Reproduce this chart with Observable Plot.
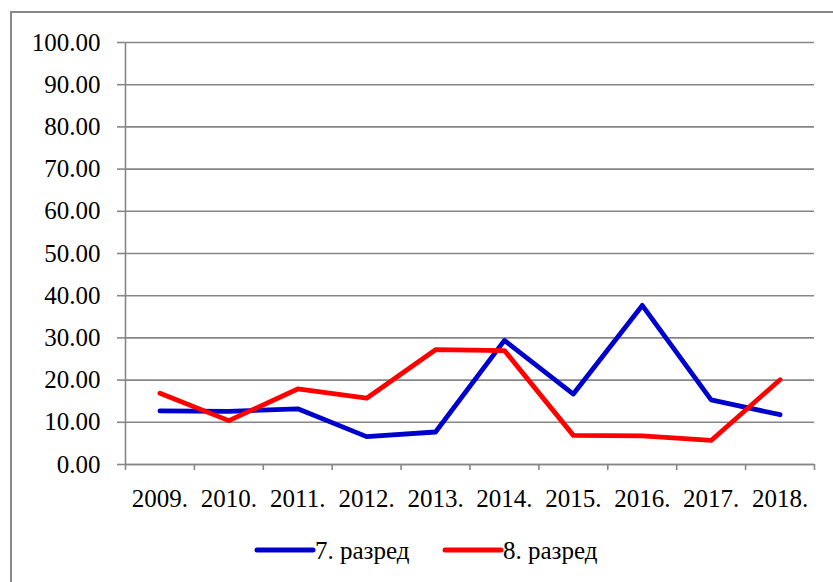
<!DOCTYPE html>
<html>
<head>
<meta charset="utf-8">
<script src="https://cdn.jsdelivr.net/npm/d3@7"></script>
<script src="https://cdn.jsdelivr.net/npm/@observablehq/plot@0.6"></script>
<style>
  html, body { margin: 0; padding: 0; background: #fff; }
  #wrap { position: relative; width: 833px; height: 582px; overflow: hidden; }
  #frame { position: absolute; left: 10px; top: 11px; width: 900px; height: 700px; border-left: 2px solid #888; border-top: 2px solid #888; }
  #chart { position: absolute; left: 0; top: 0; }
  #legend { position: absolute; left: 0; top: 520px; }
  #dbg { position: absolute; left: 0; top: 0; margin: 0; font: 1px monospace; color: #fff; }
</style>
</head>
<body>
<div id="wrap">
  <div id="frame"></div>
  <div id="chart"></div>
  <div id="legend"></div>
  <pre id="dbg"></pre>
</div>
<script>
const years = [2009, 2010, 2011, 2012, 2013, 2014, 2015, 2016, 2017, 2018];
const grade7 = [12.7, 12.6, 13.2, 6.6, 7.7, 29.4, 16.7, 37.7, 15.3, 11.8];
const grade8 = [16.9, 10.4, 17.9, 15.7, 27.2, 27.0, 6.9, 6.8, 5.7, 20.1];
const seriesNames = ["7. разред", "8. разред"];
const seriesColors = ["#0000CC", "#FF0000"];
const yTicks = [0, 10, 20, 30, 40, 50, 60, 70, 80, 90, 100];
const rows7 = years.map((y, i) => ({year: y, value: grade7[i], series: seriesNames[0]}));
const rows8 = years.map((y, i) => ({year: y, value: grade8[i], series: seriesNames[1]}));
const boundaries = [years[0] - 0.5, ...years.map(y => y + 0.5)];
const gray = "#868686";
let msg = "";
try {
const plot = Plot.plot({
  width: 833, height: 582, marginTop: 42, marginBottom: 118, marginLeft: 125, marginRight: 19,
  style: {fontFamily: "Liberation Serif", fontSize: "25px", color: "black"},
  x: {domain: [years[0] - 0.5, years[years.length - 1] + 0.5]},
  y: {domain: [0, 100]},
  color: {domain: seriesNames, range: seriesColors},
  marks: [
    Plot.gridY(yTicks, {stroke: gray, strokeOpacity: 1, strokeWidth: 1.6}),
    Plot.axisY(yTicks, {tickSize: 8, tickPadding: 17, tickFormat: d => d.toFixed(2), stroke: gray, strokeWidth: 1.6, fill: "black", label: null}),
    Plot.ruleX([years[0] - 0.5], {stroke: gray, strokeWidth: 1.6}),
    Plot.ruleY([0], {stroke: gray, strokeWidth: 1.6}),
    Plot.axisX(boundaries, {tickSize: 6, tickFormat: () => "", stroke: gray, strokeWidth: 1.6, label: null}),
    Plot.axisX(years, {tickSize: 0, tickPadding: 25, tickFormat: d => d + ".", fill: "black", label: null}),
    Plot.line(rows7, {x: "year", y: "value", stroke: "series", strokeWidth: 4.8}),
    Plot.line(rows8, {x: "year", y: "value", stroke: "series", strokeWidth: 4.8})
  ]
});
document.getElementById("chart").appendChild(plot);
const t = plot.querySelector("text");
const cs = getComputedStyle(t);
msg += cs.fontFamily.length > 0 ? "." : "";

// Legend
const ns = "http://www.w3.org/2000/svg";
const lg = document.createElementNS(ns, "svg");
lg.setAttribute("width", 833);
lg.setAttribute("height", 60);
lg.style.fontFamily = "Liberation Serif";
lg.style.fontSize = "25px";
const items = [{x: 257, name: seriesNames[0], color: seriesColors[0]}, {x: 445, name: seriesNames[1], color: seriesColors[1]}];
items.forEach(it => {
  const l = document.createElementNS(ns, "line");
  l.setAttribute("x1", it.x); l.setAttribute("x2", it.x + 56);
  l.setAttribute("y1", 30); l.setAttribute("y2", 30);
  l.setAttribute("stroke", it.color); l.setAttribute("stroke-width", 5);
  l.setAttribute("stroke-linecap", "round");
  lg.appendChild(l);
  const tx = document.createElementNS(ns, "text");
  tx.setAttribute("x", it.x + 58); tx.setAttribute("y", 39);
  tx.setAttribute("fill", "black");
  tx.textContent = it.name;
  lg.appendChild(tx);
});
document.getElementById("legend").appendChild(lg);
} catch (e) { msg += ""; }
document.getElementById("dbg").textContent = msg;
</script>
</body>
</html>
